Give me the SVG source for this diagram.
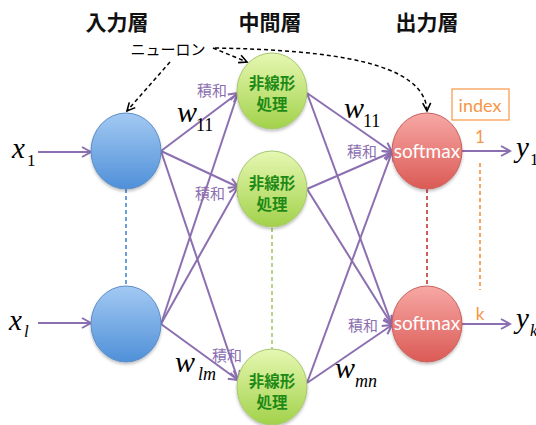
<svg xmlns="http://www.w3.org/2000/svg" width="536" height="425" viewBox="0 0 536 425">
<defs>
<linearGradient id="gBlue" x1="0" y1="0" x2="0" y2="1"><stop offset="0" stop-color="#a3c9f3"/><stop offset="1" stop-color="#4f90d8"/></linearGradient>
<linearGradient id="gGreen" x1="0" y1="0" x2="0" y2="1"><stop offset="0" stop-color="#e6f7b2"/><stop offset="1" stop-color="#a2d14a"/></linearGradient>
<linearGradient id="gRed" x1="0" y1="0" x2="0" y2="1"><stop offset="0" stop-color="#f7a8a5"/><stop offset="1" stop-color="#db5a55"/></linearGradient>
<filter id="sh" x="-20%" y="-20%" width="140%" height="150%"><feDropShadow dx="0" dy="2" stdDeviation="1.5" flood-color="#000" flood-opacity="0.25"/></filter>
<marker id="ap" markerUnits="userSpaceOnUse" markerWidth="14" markerHeight="14" viewBox="0 0 14 14" refX="12" refY="7" orient="auto"><path d="M3,2 L12,7 L3,12" fill="none" stroke="#8c6fb0" stroke-width="2"/></marker>
<marker id="ak" markerUnits="userSpaceOnUse" markerWidth="12" markerHeight="12" viewBox="0 0 12 12" refX="10" refY="6" orient="auto"><path d="M2,2 L10,6 L2,10" fill="none" stroke="#000" stroke-width="1.6"/></marker>
</defs>
<style>
.e{stroke:#8c6fb0;stroke-width:2;fill:none;marker-end:url(#ap)}
.nd{stroke:#000;stroke-width:1.5;stroke-dasharray:4 3;fill:none;marker-end:url(#ak)}
.vd{stroke-width:2;stroke-dasharray:4 3;fill:none}
.title{font-family:"Noto Sans CJK JP","Noto Sans",sans-serif;font-size:21px;font-weight:bold;fill:#111;text-anchor:middle}
.jp{font-family:"Noto Sans CJK JP",sans-serif}
.sk{font-family:"Noto Sans CJK JP",sans-serif;font-size:15px;fill:#8c6fb0}
.nl{font-family:"Noto Sans CJK JP",sans-serif;font-size:15.5px;font-weight:bold;fill:#1e8a16;text-anchor:middle}
.sm{font-family:Lato,"Open Sans",sans-serif;font-size:19px;fill:#fff;text-anchor:middle}
.m{font-family:"Liberation Serif",serif;fill:#000}
.or{font-family:Lato,"Open Sans",sans-serif;fill:#f79646;text-anchor:middle}
.node{filter:url(#sh)}
</style>

<text class="title" x="117" y="30">入力層</text>
<text class="title" x="270" y="30">中間層</text>
<text class="title" x="427" y="30">出力層</text>
<text class="jp" x="168" y="55" font-size="15" text-anchor="middle" fill="#000">ニューロン</text>

<g id="connectors">
<path class="nd" d="M170,62 L127,111"/>
<path class="nd" d="M213,48 L247,62"/>
<path class="nd" d="M215,48 C330,50 425,62 427,111"/>
<line class="vd" x1="126" y1="189" x2="126" y2="286" stroke="#6b9fd6"/>
<line class="vd" x1="272" y1="228" x2="272" y2="349" stroke="#b6d38a"/>
<line class="vd" x1="427" y1="189" x2="427" y2="286" stroke="#c9605c"/>
<line class="vd" x1="480" y1="163" x2="480" y2="290" stroke="#f8a55f"/>
<line class="e" x1="38" y1="152" x2="91" y2="152"/>
<line class="e" x1="38" y1="323" x2="91" y2="323"/>
<line class="e" x1="161" y1="151" x2="238" y2="93"/>
<line class="e" x1="161" y1="151" x2="238" y2="187"/>
<line class="e" x1="161" y1="151" x2="238" y2="380"/>
<line class="e" x1="161" y1="324" x2="238" y2="93"/>
<line class="e" x1="161" y1="324" x2="238" y2="187"/>
<line class="e" x1="161" y1="324" x2="238" y2="380"/>
<line class="e" x1="307" y1="93" x2="392" y2="152"/>
<line class="e" x1="307" y1="93" x2="392" y2="325"/>
<line class="e" x1="307" y1="189" x2="392" y2="152"/>
<line class="e" x1="307" y1="189" x2="392" y2="325"/>
<line class="e" x1="307" y1="383" x2="392" y2="152"/>
<line class="e" x1="307" y1="383" x2="392" y2="325"/>
<line class="e" x1="462" y1="151" x2="510" y2="151"/>
<line class="e" x1="462" y1="324" x2="510" y2="324"/>
</g>

<g id="in1"><ellipse class="node" cx="126" cy="151" rx="35" ry="38" fill="url(#gBlue)" stroke="#5a8cc8" stroke-width="1"/></g>
<g id="in2"><ellipse class="node" cx="126" cy="324" rx="35" ry="38" fill="url(#gBlue)" stroke="#5a8cc8" stroke-width="1"/></g>

<g id="mid1"><ellipse class="node" cx="272" cy="91" rx="35" ry="38" fill="url(#gGreen)" stroke="#a8c870" stroke-width="1"/>
<text class="nl" x="272" y="89">非線形</text><text class="nl" x="272" y="110">処理</text></g>
<g id="mid2"><ellipse class="node" cx="272" cy="189" rx="35" ry="38" fill="url(#gGreen)" stroke="#a8c870" stroke-width="1"/>
<text class="nl" x="272" y="189">非線形</text><text class="nl" x="272" y="210">処理</text></g>
<g id="mid3"><ellipse class="node" cx="272" cy="387" rx="35" ry="38" fill="url(#gGreen)" stroke="#a8c870" stroke-width="1"/>
<text class="nl" x="272" y="387">非線形</text><text class="nl" x="272" y="408">処理</text></g>

<g id="out1"><ellipse class="node" cx="427" cy="151" rx="35" ry="38" fill="url(#gRed)" stroke="#c8605c" stroke-width="1"/>
<text class="sm" x="427" y="158">softmax</text></g>
<g id="out2"><ellipse class="node" cx="427" cy="324" rx="35" ry="38" fill="url(#gRed)" stroke="#c8605c" stroke-width="1"/>
<text class="sm" x="427" y="330">softmax</text></g>

<text class="sk" x="197" y="96">積和</text>
<text class="sk" x="195" y="199">積和</text>
<text class="sk" x="212" y="361">積和</text>
<text class="sk" x="347" y="157">積和</text>
<text class="sk" x="348" y="331">積和</text>

<text class="m" x="177" y="122" font-size="30" font-style="italic">w</text>
<text class="m" x="196" y="131" font-size="18">11</text>
<text class="m" x="344" y="118" font-size="30" font-style="italic">w</text>
<text class="m" x="363" y="127" font-size="18">11</text>
<text class="m" x="175" y="372" font-size="30" font-style="italic">w</text>
<text class="m" x="198" y="380" font-size="18" font-style="italic">lm</text>
<text class="m" x="335" y="378" font-size="30" font-style="italic">w</text>
<text class="m" x="355" y="387" font-size="18" font-style="italic">mn</text>

<text class="m" x="12" y="158" font-size="29" font-style="italic">x</text>
<text class="m" x="27" y="166" font-size="17">1</text>
<text class="m" x="9" y="330" font-size="29" font-style="italic">x</text>
<text class="m" x="24" y="337" font-size="17" font-style="italic">l</text>
<text class="m" x="516" y="157" font-size="29" font-style="italic">y</text>
<text class="m" x="530" y="165" font-size="17">1</text>
<text class="m" x="516" y="328" font-size="29" font-style="italic">y</text>
<text class="m" x="530" y="336" font-size="17" font-style="italic">k</text>

<rect x="452" y="89" width="57" height="31" fill="#fff" stroke="#f79646" stroke-width="1.2"/>
<text class="or" x="480" y="112" font-size="18">index</text>
<text class="or" x="480" y="143" font-size="17">1</text>
<text class="or" x="480" y="320" font-size="17">k</text>
</svg>
